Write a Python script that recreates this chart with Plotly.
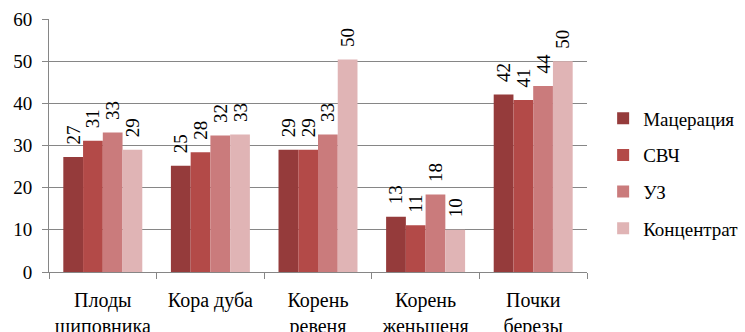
import plotly.graph_objects as go

# Source plants (category axis); two-line tick labels
categories = ["Плоды<br>шиповника", "Кора дуба", "Корень<br>ревеня",
              "Корень<br>женьшеня", "Почки<br>березы"]

# Extraction methods and their yields
series_names = ["Мацерация", "СВЧ", "УЗ", "Концентрат"]
maceration = [27.3, 25.2, 29.0, 13.1, 42.1]
microwave = [31.1, 28.4, 29.0, 11.1, 40.8]
ultrasound = [33.1, 32.4, 32.6, 18.4, 44.1]
concentrate = [29.0, 32.6, 50.4, 10.0, 50.0]

y_ticks = [0, 10, 20, 30, 40, 50, 60]

colors = ["#953B3B", "#B34A48", "#CA7B7C", "#E0B4B5"]
FONT = "Liberation Serif, Times New Roman, serif"

fig = go.Figure()
for i, (name, vals) in enumerate(zip(series_names,
                                     [maceration, microwave, ultrasound, concentrate])):
    fig.add_trace(go.Bar(
        name=name,
        x=categories,
        y=vals,
        marker=dict(color=colors[i], line=dict(width=0)),
        # zero-width lead keeps the padding spaces from being trimmed
        texttemplate="\u200b\u00a0\u00a0%{y:.0f}",
        textposition="outside",
        textangle=-90,
        textfont=dict(family=FONT, size=19, color="#000000"),
        constraintext="none",
        cliponaxis=False,
        legendgroup=name,
    ))

fig.update_layout(
    width=745,
    height=332,
    margin=dict(l=49, r=158, t=19, b=60, autoexpand=False),
    paper_bgcolor="#FFFFFF",
    plot_bgcolor="#FFFFFF",
    barmode="group",
    bargap=0.266,
    bargroupgap=0,
    font=dict(family=FONT, size=19, color="#000000"),
    legend=dict(
        x=1.03, xanchor="left",
        y=0.39, yanchor="middle",
        font=dict(family=FONT, size=19, color="#000000"),
        tracegroupgap=9,
        itemwidth=30,
        bgcolor="rgba(0,0,0,0)",
    ),
    showlegend=True,
)

fig.update_xaxes(
    type="category",
    automargin=False,
    tickangle=0,
    showgrid=False,
    showline=True,
    linecolor="#868686",
    linewidth=1,
    ticks="outside",
    tickson="boundaries",
    ticklen=6,
    tickcolor="#868686",
    tickfont=dict(family=FONT, size=20, color="#000000"),
    ticklabelstandoff=10,
)

fig.update_yaxes(
    range=[0, 60],
    automargin=False,
    tickvals=y_ticks,
    showgrid=True,
    gridcolor="#868686",
    gridwidth=1,
    showline=True,
    linecolor="#868686",
    linewidth=1,
    ticks="outside",
    ticklen=6,
    tickcolor="#868686",
    tickfont=dict(family=FONT, size=19, color="#000000"),
    ticklabelstandoff=6,
    zeroline=False,
)

fig.write_html("out.html")
